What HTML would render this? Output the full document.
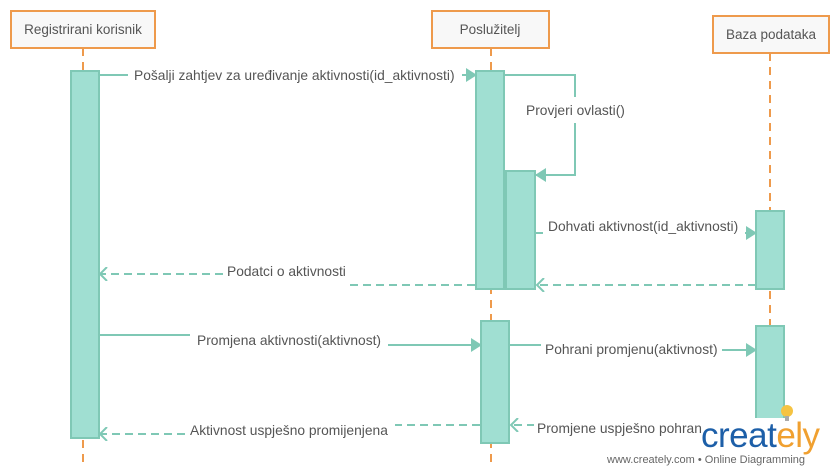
<!DOCTYPE html>
<html><head><meta charset="utf-8"><style>
html,body{margin:0;padding:0;background:#fff;}
svg{display:block;font-family:"Liberation Sans",sans-serif;}
</style></head><body>
<svg width="836" height="475" viewBox="0 0 836 475" xmlns="http://www.w3.org/2000/svg">
<defs>
<marker id="f" markerWidth="11" markerHeight="14" refX="10" refY="7" orient="auto" markerUnits="userSpaceOnUse"><path d="M0,0 L11,7 L0,14 z" fill="#7fc8b5"/></marker>
<marker id="o" markerWidth="10" markerHeight="14" refX="8" refY="7" orient="auto" markerUnits="userSpaceOnUse"><path d="M1,0 L8,7 L1,14" fill="none" stroke="#7fc8b5" stroke-width="2"/></marker>
</defs>
<g stroke="#ee9a4c" stroke-width="2" stroke-dasharray="8,6" fill="none">
<line x1="83" y1="48" x2="83" y2="465"/>
<line x1="491" y1="48" x2="491" y2="465"/>
<line x1="770" y1="53" x2="770" y2="420"/>
</g>
<g stroke="#ee9a4c" stroke-width="2" fill="#f8f8f8">
<rect x="11" y="11" width="144" height="37"/>
<rect x="432" y="11" width="117" height="37"/>
<rect x="713" y="16" width="116" height="37"/>
</g>
<g font-size="13.5" fill="#555" text-anchor="middle">
<text x="83" y="34">Registrirani korisnik</text>
<text x="490" y="34">Poslužitelj</text>
<text x="771" y="39">Baza podataka</text>
</g>
<g stroke="#7fc8b5" stroke-width="2" fill="none" stroke-dasharray="8,5">
<line x1="475" y1="285" x2="350" y2="285"/>
<line x1="223" y1="274" x2="100" y2="274" marker-end="url(#o)"/>
<line x1="480" y1="425" x2="395" y2="425"/>
<line x1="185" y1="434" x2="100" y2="434" marker-end="url(#o)"/>
</g>
<g fill="#a0dfd2" stroke="#7fc8b5" stroke-width="2">
<rect x="71" y="71" width="28" height="367"/>
<rect x="476" y="71" width="28" height="218"/>
<rect x="506" y="171" width="29" height="118"/>
<rect x="756" y="211" width="28" height="78"/>
<rect x="481" y="321" width="28" height="122"/>
<rect x="756" y="326" width="28" height="100"/>
</g>
<g stroke="#7fc8b5" stroke-width="2" fill="none" stroke-dasharray="8,5">
<line x1="756" y1="285" x2="537" y2="285" marker-end="url(#o)"/>
<line x1="756" y1="425" x2="511" y2="425" marker-end="url(#o)"/>
</g>
<rect x="534" y="416" width="170" height="18" fill="#fff"/>
<g stroke="#7fc8b5" stroke-width="2" fill="none">
<line x1="99" y1="75" x2="128" y2="75"/>
<line x1="462" y1="75" x2="476" y2="75" marker-end="url(#f)"/>
<polyline points="504,75 575,75 575,97"/>
<polyline points="575,123 575,175 536,175" marker-end="url(#f)"/>
<line x1="535" y1="233" x2="543" y2="233"/>
<line x1="745" y1="233" x2="756" y2="233" marker-end="url(#f)"/>
<line x1="99" y1="335" x2="190" y2="335"/>
<line x1="388" y1="345" x2="481" y2="345" marker-end="url(#f)"/>
<line x1="509" y1="345" x2="541" y2="345"/>
<line x1="722" y1="350" x2="756" y2="350" marker-end="url(#f)"/>
</g>
<g font-size="13.8" fill="#555">
<text x="134" y="80">Pošalji zahtjev za uređivanje aktivnosti(id_aktivnosti)</text>
<text x="526" y="115">Provjeri ovlasti()</text>
<text x="548" y="231">Dohvati aktivnost(id_aktivnosti)</text>
<text x="227" y="276">Podatci o aktivnosti</text>
<text x="197" y="345">Promjena aktivnosti(aktivnost)</text>
<text x="545" y="354">Pohrani promjenu(aktivnost)</text>
<text x="537" y="433">Promjene uspješno pohrani</text>
<text x="190" y="435">Aktivnost uspješno promijenjena</text>
</g>
<rect x="702" y="418" width="134" height="57" fill="#fff"/>
<rect x="604" y="450" width="100" height="25" fill="#fff"/>
<circle cx="787" cy="411" r="6" fill="#f5c342"/>
<rect x="785" y="416" width="4" height="5" fill="#aaa"/>
<text x="701" y="447" font-size="35" fill="#1d5fa8" font-family="Liberation Sans,sans-serif" letter-spacing="-0.5">creat<tspan fill="#f0a030">ely</tspan></text>
<text x="607" y="463" font-size="11" fill="#666">www.creately.com • Online Diagramming</text>
</svg>
</body></html>
